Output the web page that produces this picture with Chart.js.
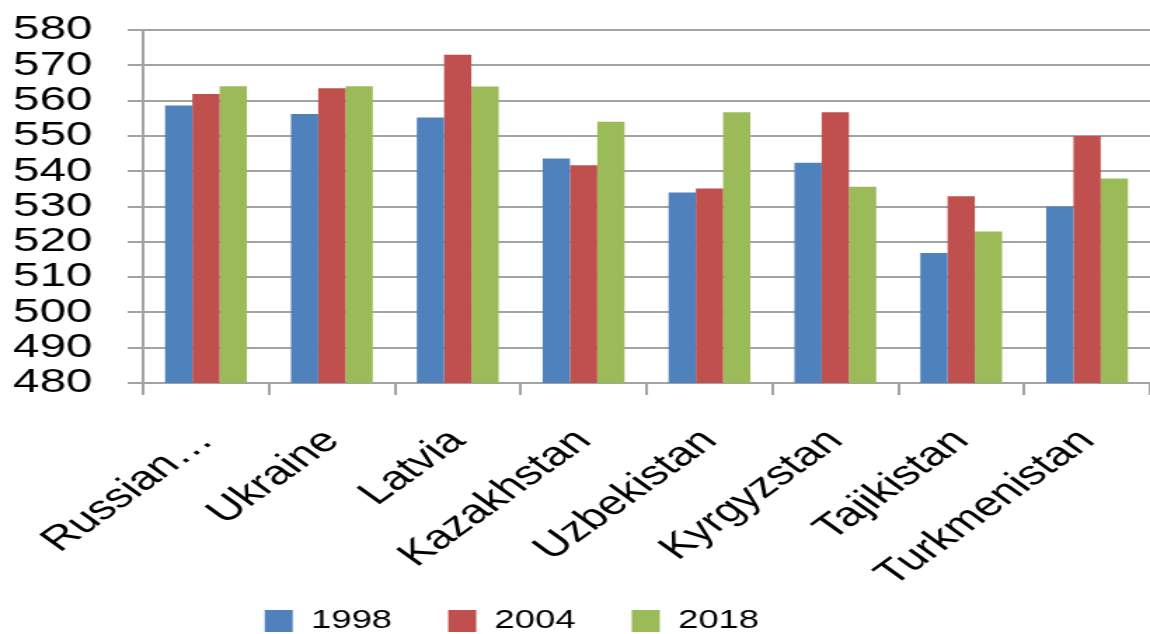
<!DOCTYPE html>
<html>
<head>
<meta charset="utf-8">
<script src="https://cdn.jsdelivr.net/npm/chart.js@4/dist/chart.umd.min.js"></script>
<style>
	body { margin: 0; background: #fff; }
	/* chart is drawn narrow then stretched sideways, like the source image */
	#chart { width: 1150px; height: 634px; }
</style>
</head>
<body>
<canvas id="chart" width="820" height="634" style="width:1150px;height:634px"></canvas>
<script>
const categories = ['Russian…', 'Ukraine', 'Latvia', 'Kazakhstan', 'Uzbekistan', 'Kyrgyzstan', 'Tajikistan', 'Turkmenistan'];
const years = ['1998', '2004', '2018'];
const values1998 = [558.6, 556.2, 555.2, 543.6, 534.0, 542.4, 516.8, 530.0];
const values2004 = [561.9, 563.5, 573.0, 541.7, 535.1, 556.7, 532.9, 550.0];
const values2018 = [564.1, 564.1, 564.0, 554.0, 556.7, 535.6, 522.9, 537.9];
const yTicks = { min: 480, max: 580, step: 10 };

const colors = ['#4F81BD', '#C0504D', '#9BBB59'];
const gridColor = '#a3a3a3';

Chart.defaults.font.family = "'Liberation Sans', Arial, sans-serif";
Chart.defaults.color = '#000';

// legend sits a bit left and lower in the original; x labels run down past the axis box
const layoutNudge = {
	id: 'layoutNudge',
	afterLayout(chart) {
		const lg = chart.legend;
		lg.left -= 45;
		lg.right -= 45;
		lg.top += 10;
		lg.bottom += 10;
		chart.scales.x.bottom += 50;
	}
};

new Chart(document.getElementById('chart'), {
	type: 'bar',
	data: {
		labels: categories,
		datasets: [values1998, values2004, values2018].map((data, i) => ({
			label: years[i],
			data,
			backgroundColor: colors[i],
			borderWidth: 0,
			categoryPercentage: 0.65,
			barPercentage: 1.0
		}))
	},
	options: {
		responsive: false,
		animation: false,
		layout: { padding: { top: 30, left: 0, right: 0, bottom: 0 } },
		plugins: {
			tooltip: { enabled: false },
			legend: {
				position: 'bottom',
				labels: {
					boxWidth: 20,
					boxHeight: 22,
					padding: 40,
					font: { size: 26 }
				}
			}
		},
		scales: {
			x: {
				afterFit: scale => {
					scale.height = 175;
					scale.paddingLeft = 0;
					scale.paddingRight = 0;
				},
				grid: {
					offset: true,
					drawOnChartArea: false,
					color: gridColor,
					lineWidth: 2,
					tickLength: 12
				},
				border: { color: gridColor, width: 2 },
				ticks: {
					autoSkip: false,
					maxRotation: 45,
					minRotation: 45,
					padding: 26,
					font: { size: 34 }
				}
			},
			y: {
				min: yTicks.min,
				max: yTicks.max,
				afterFit: scale => {
					scale.width = 102;
					scale.paddingTop = 0;
					scale.paddingBottom = 0;
				},
				grid: {
					color: gridColor,
					lineWidth: 2,
					tickLength: 11
				},
				border: { color: gridColor, width: 2 },
				ticks: {
					autoSkip: false,
					stepSize: yTicks.step,
					padding: 25,
					font: { size: 34 }
				}
			}
		}
	},
	plugins: [layoutNudge]
});
</script>
</body>
</html>
